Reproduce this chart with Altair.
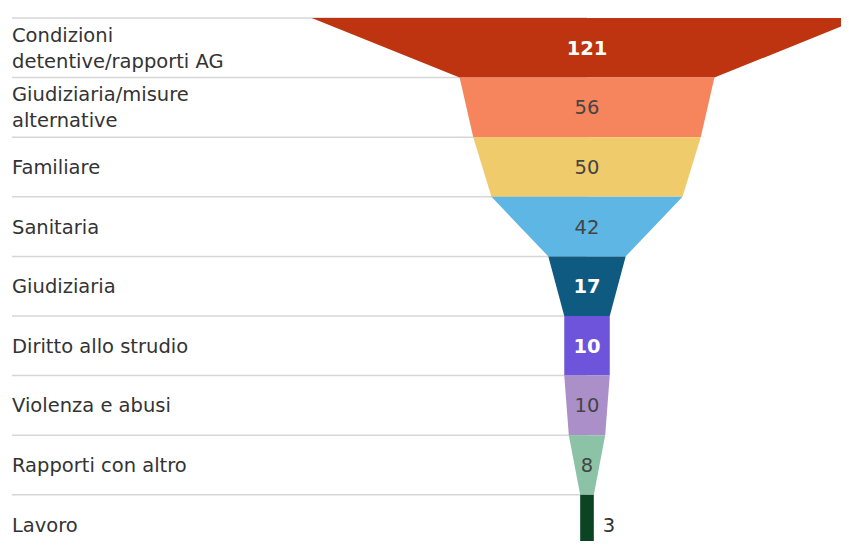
import altair as alt
import pandas as pd

# ---- data ----
categories = [
    "Condizioni\ndetentive/rapporti AG",
    "Giudiziaria/misure\nalternative",
    "Familiare",
    "Sanitaria",
    "Giudiziaria",
    "Diritto allo strudio",
    "Violenza e abusi",
    "Rapporti con altro",
    "Lavoro",
]
values = [121, 56, 50, 42, 17, 10, 10, 8, 3]
colors = ["#BE3310", "#F6845C", "#EFCB6B", "#5EB6E4", "#0E5A80",
          "#6E54DB", "#AB8FC9", "#8CC3A7", "#0B4423"]
light_label = [True, False, False, False, True, True, False, False, False]

# ---- layout ----
FONT = "DejaVu Sans"
FS = 19.5
LH = 26
W, H = 829, 523
center_px = 575          # funnel centre from left of plot area
px_per_unit = 4.55       # px of funnel width per unit of value
row_px = 59.6
x_min = -center_px / px_per_unit
x_max = (W - center_px) / px_per_unit
y_max = H / row_px

n = len(values)
idx = list(range(n))

# funnel trapezoids: top width = value, bottom width = next value
rows = []
for i in idx:
    top = values[i]
    bot = values[i + 1] if i + 1 < n else values[i]
    rows.append({"idx": i, "y": i, "xl": -top / 2, "xr": top / 2})
    rows.append({"idx": i, "y": i + 1, "xl": -bot / 2, "xr": bot / 2})
funnel_df = pd.DataFrame(rows)

rule_df = pd.DataFrame({"y": idx, "x0": [x_min] * n, "x1": [0] * n})

cat_df = pd.DataFrame({
    "idx": idx, "cat": categories,
    "yc": [i + 0.5 - (c.count("\n") * LH / 2) / row_px for i, c in zip(idx, categories)],
})

lab_rows = []
for i in idx:
    inside = values[i] * px_per_unit >= 24
    lab_rows.append({
        "idx": i, "yc": i + 0.5, "txt": str(values[i]),
        "light": light_label[i],
        "x": 0 if inside else values[i] / 2,
        "inside": inside,
    })
lab_df = pd.DataFrame(lab_rows)

xs = alt.Scale(domain=[x_min, x_max], nice=False, zero=False)
ys = alt.Scale(domain=[0, y_max], reverse=True, nice=False, zero=False)

rules = alt.Chart(rule_df).mark_rule(color="#d6d6d6", strokeWidth=1.5).encode(
    y=alt.Y("y:Q", scale=ys, axis=None),
    x=alt.X("x0:Q", scale=xs, axis=None),
    x2="x1:Q",
)

funnel = alt.Chart(funnel_df).mark_area(orient="horizontal", clip=True).encode(
    y=alt.Y("y:Q", scale=ys, axis=None),
    x=alt.X("xl:Q", scale=xs, axis=None, stack=None),
    x2="xr:Q",
    color=alt.Color("idx:O", scale=alt.Scale(domain=idx, range=colors), legend=None),
)

cat_text = alt.Chart(cat_df).mark_text(
    align="left", baseline="middle", font=FONT, fontSize=FS, dy=1,
    color="#333333", lineBreak="\n", lineHeight=LH,
).encode(
    x=alt.value(0),
    y=alt.Y("yc:Q", scale=ys, axis=None),
    text="cat:N",
)

base_lab = alt.Chart(lab_df)
enc = dict(
    x=alt.X("x:Q", scale=xs, axis=None),
    y=alt.Y("yc:Q", scale=ys, axis=None),
    text="txt:N",
)
in_light = base_lab.transform_filter("datum.inside && datum.light").mark_text(
    align="center", baseline="middle", font=FONT, fontSize=FS, dy=1,
    fontWeight="bold", color="#ffffff",
).encode(**enc)
in_dark = base_lab.transform_filter("datum.inside && !datum.light").mark_text(
    align="center", baseline="middle", font=FONT, fontSize=FS, dy=1,
    color="#444444",
).encode(**enc)
out_lab = base_lab.transform_filter("!datum.inside").mark_text(
    align="left", baseline="middle", font=FONT, fontSize=FS, dx=9, dy=1,
    color="#333333",
).encode(**enc)

chart = alt.layer(rules, funnel, cat_text, in_light, in_dark, out_lab).properties(
    width=W, height=H,
    padding={"left": 4, "top": 10, "right": 0, "bottom": 0},
    autosize=alt.AutoSizeParams(type="none"),
    background="white",
).configure_view(stroke=None)

chart.save("out.html", embed_options={"renderer": "svg", "actions": False})
